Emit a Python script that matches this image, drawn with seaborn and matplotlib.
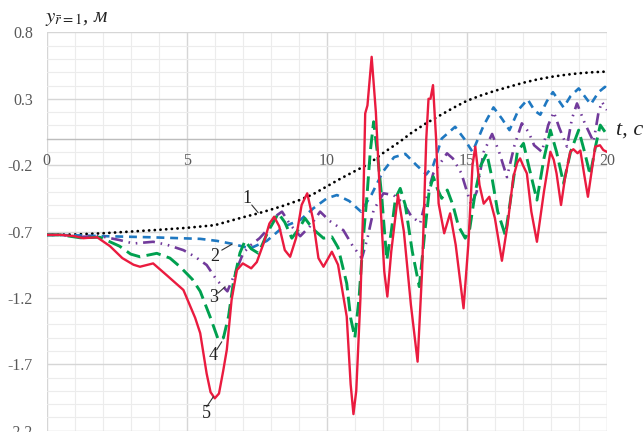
import numpy as np
import pandas as pd
import matplotlib
matplotlib.use("Agg")
import matplotlib.pyplot as plt
import seaborn as sns

# ---- series data: time t (s) and displacement y (m) ----
t1 = [0, 1, 2, 3, 4, 5, 6, 6.66, 7, 7.55, 8, 8.5, 9, 9.5, 10, 10.5, 11, 11.5, 12,
      12.6, 13, 13.5, 14, 14.5, 15, 15.5, 16, 16.5, 17, 17.5, 18, 18.5, 19, 19.5, 20]
y1 = [-0.725, -0.722, -0.713, -0.700, -0.687, -0.672, -0.652, -0.613, -0.593, -0.563,
      -0.535, -0.502, -0.465, -0.42, -0.36, -0.30, -0.245, -0.19, -0.11,
      -0.024, 0.04, 0.11, 0.17, 0.23, 0.285, 0.325, 0.36, 0.39, 0.42, 0.445, 0.465,
      0.48, 0.492, 0.50, 0.505]

t2 = [0, 1.0, 1.9, 3.7, 5.48, 6.07, 6.66, 7.26, 7.86, 8.45, 9.05, 9.52, 10.0, 10.36,
      10.8, 11.22, 11.6, 12.0, 12.4, 12.8, 13.2, 13.55, 13.8, 14.1, 14.58, 14.9, 15.2,
      15.6, 15.95, 16.25, 16.52, 16.85, 17.17, 17.42, 17.62, 17.85, 18.07, 18.45, 18.7,
      18.99, 19.2, 19.42, 19.7, 19.93, 20.0]
y2 = [-0.725, -0.728, -0.734, -0.743, -0.755, -0.77, -0.794, -0.827, -0.77, -0.664,
      -0.613, -0.525, -0.45, -0.425, -0.47, -0.55, -0.42, -0.25, -0.14, -0.115, -0.2,
      -0.27, -0.2, 0.0, 0.089, 0.0, -0.1, 0.1, 0.235, 0.15, 0.064, 0.22, 0.295, 0.21,
      0.18, 0.28, 0.35, 0.235, 0.32, 0.378, 0.32, 0.258, 0.35, 0.39, 0.37]

t3 = [0, 0.5, 1.2, 1.9, 2.6, 3.1, 3.8, 4.3, 4.88, 5.3, 5.71, 6.07, 6.45, 6.75, 7.02,
      7.3, 7.6, 7.9, 8.2, 8.4, 8.7, 9.05, 9.4, 9.76, 10.1, 10.59, 10.9, 11.25, 11.45,
      11.67, 12.02, 12.38, 12.74, 13.0, 13.33, 13.55, 13.8, 14.29, 14.5, 14.8, 15.15,
      15.35, 15.6, 15.9, 16.15, 16.43, 16.7, 16.96, 17.2, 17.4, 17.68, 17.9, 18.1, 18.3,
      18.57, 18.75, 18.93, 19.2, 19.52, 19.7, 19.82, 20.0]
y3 = [-0.725, -0.725, -0.74, -0.734, -0.764, -0.79, -0.777, -0.8, -0.84, -0.89,
      -0.952, -1.065, -1.15, -1.0, -0.86, -0.8, -0.75, -0.68, -0.58, -0.55, -0.65,
      -0.735, -0.66, -0.55, -0.62, -0.69, -0.8, -0.902, -0.75, -0.538, -0.412, -0.425,
      -0.488, -0.58, -0.638, -0.45, -0.262, -0.111, -0.15, -0.26, -0.5, -0.4, -0.1,
      0.035, -0.1, -0.29, -0.05, 0.115, 0.05, -0.05, -0.1, 0.1, 0.2, 0.08, -0.06, 0.15,
      0.265, 0.12, -0.024, 0.2, 0.277, 0.215]

t4 = [0, 0.5, 1.2, 1.9, 2.6, 3.0, 3.33, 3.93, 4.4, 4.76, 5.2, 5.48, 5.83, 6.13, 6.31,
      6.49, 6.66, 6.9, 7.08, 7.3, 7.56, 7.9, 8.27, 8.5, 8.75, 9.0, 9.22, 9.5, 9.88,
      10.18, 10.4, 10.71, 10.85, 11.0, 11.15, 11.3, 11.43, 11.55, 11.67, 11.8, 11.96,
      12.14, 12.3, 12.45, 12.62, 12.8, 13.05, 13.3, 13.5, 13.65, 13.8, 13.95, 14.1,
      14.3, 14.5, 14.7, 14.94, 15.1, 15.3, 15.5, 15.71, 15.9, 16.1, 16.37, 16.6, 16.8,
      17.02, 17.2, 17.5, 17.75, 17.98, 18.2, 18.45, 18.7, 18.99, 19.2, 19.4, 19.6,
      19.76, 19.9, 20.0]
y4 = [-0.725, -0.725, -0.747, -0.743, -0.81, -0.87, -0.89, -0.864, -0.9, -0.965,
      -1.06, -1.15, -1.34, -1.517, -1.5, -1.34, -1.09, -0.86, -0.77, -0.83, -0.864,
      -0.7, -0.563, -0.63, -0.75, -0.68, -0.6, -0.68, -0.75, -0.74, -0.82, -1.09,
      -1.35, -1.50, -1.2, -0.75, -0.44, -0.1, 0.127, -0.1, -0.44, -0.915, -0.7, -0.45,
      -0.375, -0.5, -0.85, -1.115, -0.7, -0.4, -0.287, -0.38, -0.45, -0.387, -0.5,
      -0.66, -0.75, -0.68, -0.4, -0.2, -0.111, -0.3, -0.55, -0.727, -0.4, -0.1, -0.036,
      -0.2, -0.463, -0.15, 0.064, -0.1, -0.337, -0.1, 0.064, -0.1, -0.275, -0.05,
      0.102, 0.06, 0.03]

t5 = [0, 0.5, 1.0, 1.3, 1.8, 2.26, 2.7, 3.1, 3.33, 3.8, 4.29, 4.88, 5.0, 5.3, 5.48,
      5.71, 5.85, 6.0, 6.15, 6.3, 6.43, 6.6, 6.79, 7.0, 7.3, 7.5, 7.74, 7.95, 8.12,
      8.3, 8.5, 8.69, 8.9, 9.1, 9.3, 9.5, 9.7, 9.88, 10.18, 10.4, 10.71, 10.85, 10.95,
      11.05, 11.2, 11.3, 11.37, 11.45, 11.6, 11.75, 11.9, 12.05, 12.16, 12.3, 12.54,
      12.75, 13.0, 13.24, 13.4, 13.55, 13.63, 13.7, 13.79, 13.9, 13.99, 14.19, 14.4,
      14.6, 14.88, 15.05, 15.2, 15.3, 15.45, 15.6, 15.8, 16.0, 16.25, 16.45, 16.66,
      16.8, 16.9, 17.0, 17.14, 17.3, 17.5, 17.75, 17.98, 18.1, 18.2, 18.36, 18.5,
      18.69, 18.8, 18.95, 19.05, 19.2, 19.32, 19.45, 19.58, 19.75, 19.87, 20.0]
y5 = [-0.725, -0.725, -0.735, -0.75, -0.743, -0.81, -0.9, -0.95, -0.965, -0.94,
      -1.03, -1.14, -1.2, -1.35, -1.465, -1.77, -1.91, -1.956, -1.92, -1.75, -1.59,
      -1.215, -0.99, -0.94, -0.977, -0.93, -0.79, -0.64, -0.588, -0.66, -0.84, -0.89,
      -0.75, -0.5, -0.412, -0.6, -0.9, -0.965, -0.852, -0.95, -1.34, -1.85, -2.075,
      -1.9, -1.2, -0.5, 0.19, 0.25, 0.616, 0.2, -0.44, -1.0, -1.19, -0.85, -0.425,
      -0.7, -1.25, -1.68, -1.0, 0.0, 0.30, 0.30, 0.403, 0.0, -0.488, -0.713, -0.563,
      -0.8, -1.278, -0.8, -0.2, -0.061, -0.35, -0.49, -0.438, -0.6, -0.92, -0.65,
      -0.287, -0.18, -0.149, -0.2, -0.262, -0.55, -0.777, -0.4, -0.099, -0.16, -0.262,
      -0.5, -0.3, -0.099, -0.08, -0.11, -0.09, -0.287, -0.438, -0.25, -0.061, -0.05,
      -0.086, -0.1]

curve_names = ["1", "2", "3", "4", "5"]
x_ticks = [0, 5, 10, 15, 20]
y_ticks = [0.8, 0.3, -0.2, -0.7, -1.2, -1.7, -2.2]

# ---- styling ----
sns.set_style("white")
plt.rcParams["font.family"] = ["Liberation Serif", "DejaVu Serif"]
plt.rcParams["mathtext.fontset"] = "stix"

fig = plt.figure(figsize=(6.44, 4.32), dpi=100)
ax = fig.add_axes([0.0725, 0.003, 0.870, 0.922])

styles = [
    dict(color="black", lw=2.0, linestyle=(0, (0.05, 2.0)), dash_capstyle="round"),
    dict(color="#1f78c1", lw=1.9, linestyle=(0, (3.0, 2.2))),
    dict(color="#713a9b", lw=1.9, linestyle=(0, (4.5, 2.2, 0.6, 2.2, 0.6, 2.2))),
    dict(color="#00a04f", lw=2.1, linestyle=(0, (5.0, 2.2))),
    dict(color="#ea1b3f", lw=1.7, linestyle="-"),
]
series = [(t1, y1), (t2, y2), (t3, y3), (t4, y4), (t5, y5)]

for name, (tt, yy), st in zip(curve_names, series, styles):
    df = pd.DataFrame({"t": tt, "y": yy})
    sns.lineplot(data=df, x="t", y="y", ax=ax, errorbar=None, zorder=3, **st)

ax.set_xlim(0, 20)
ax.set_ylim(-2.2, 0.8)

# grid: major every 5 s / 0.5 m, minor every 1 s / 0.1 m
ax.set_xticks(x_ticks)
ax.set_xticks(np.arange(0, 21, 1), minor=True)
ax.set_yticks(y_ticks)
ax.set_yticks(np.round(np.arange(-2.2, 0.81, 0.1), 2), minor=True)
ax.set_yticklabels([f"{v:.1f}" for v in y_ticks])
ax.grid(which="major", color="#d6d6d6", lw=1.0, zorder=0)
ax.grid(which="minor", color="#ececec", lw=0.8, zorder=0)
ax.set_axisbelow(True)

for side in ["top", "right", "left"]:
    ax.spines[side].set_visible(False)
ax.spines["bottom"].set_position(("data", 0))
ax.spines["bottom"].set_color("#bdbdbd")
ax.spines["bottom"].set_linewidth(1.0)

ax.tick_params(axis="x", which="both", length=0, pad=10, labelsize=11.5,
               labelcolor="#595959")
ax.tick_params(axis="y", which="major", length=4, color="#cfcfcf", pad=6,
               labelsize=11.5, labelcolor="#595959")
ax.tick_params(axis="y", which="minor", length=0)
ax.set_xlabel("")
ax.set_ylabel("")

# axis titles
fig.text(0.070, 0.957, r"$y_{\bar{r}=1}$, м", fontsize=15, style="italic",
         ha="left", va="center", color="#222222")
fig.text(0.957, 0.700, "t, c", fontsize=16, style="italic", ha="left",
         va="center", color="#222222")

# curve numbers with leader lines
labels = [
    ("1", (7.14, -0.45), [(7.32, 7.55), (-0.50, -0.558)]),
    ("2", (6.01, -0.89), [(6.25, 6.61), (-0.84, -0.796)]),
    ("3", (5.975, -1.20), [(6.12, 6.37), (-1.163, -1.116)]),
    ("4", (5.93, -1.63), [(6.07, 6.25), (-1.59, -1.53)]),
    ("5", (5.71, -2.067), [(5.71, 5.95), (-2.02, -1.944)]),
]
for txt, (lx, ly), (lxs, lys) in labels:
    ax.text(lx, ly, txt, fontsize=13, ha="center", va="center", color="#222222",
            zorder=5)
    ax.plot(lxs, lys, color="#333333", lw=0.8, zorder=4)

fig.savefig("out.png", dpi=100)
